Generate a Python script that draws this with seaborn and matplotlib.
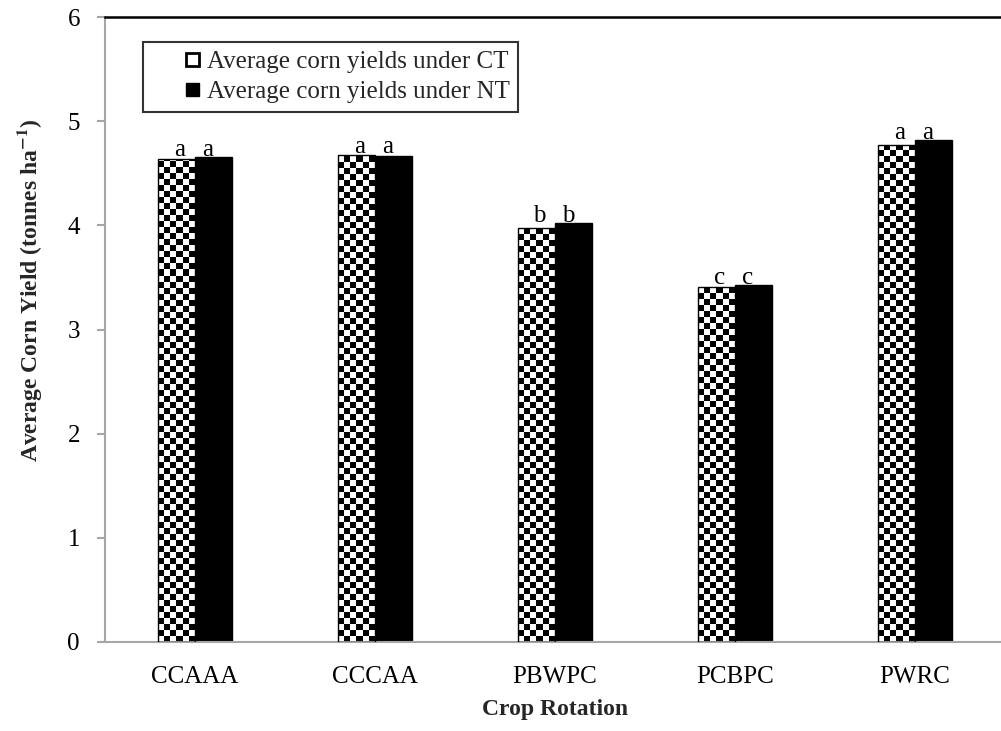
import numpy as np
import pandas as pd
import matplotlib
matplotlib.use("Agg")
import matplotlib.pyplot as plt
from matplotlib.colors import ListedColormap
from matplotlib.patches import Patch, Rectangle
from matplotlib.legend_handler import HandlerPatch
import seaborn as sns

# ---- data ----
rotations = ["CCAAA", "CCCAA", "PBWPC", "PCBPC", "PWRC"]
ct_yield = [4.64, 4.68, 3.97, 3.41, 4.77]
nt_yield = [4.66, 4.67, 4.02, 3.43, 4.82]
ct_letters = ["a", "a", "b", "c", "a"]
nt_letters = ["a", "a", "b", "c", "a"]
series_names = ["Average corn yields under CT", "Average corn yields under NT"]
y_ticks = [0, 1, 2, 3, 4, 5, 6]

df = pd.DataFrame({
    "Rotation": rotations * 2,
    "Tillage": ["CT"] * len(rotations) + ["NT"] * len(rotations),
    "Yield": ct_yield + nt_yield,
})

sns.set_theme(style="white")
plt.rcParams["font.family"] = ["Liberation Serif", "DejaVu Serif"]
plt.rcParams["mathtext.fontset"] = "stix"

W, H = 1001, 731
fig = plt.figure(figsize=(W / 100, H / 100), dpi=100)
ax = fig.add_axes([105 / W, (H - 642) / H, 900 / W, (642 - 17) / H])

sns.barplot(data=df, x="Rotation", y="Yield", hue="Tillage", order=rotations,
            hue_order=["CT", "NT"], palette={"CT": "white", "NT": "black"},
            width=0.41, dodge=True, edgecolor="black", linewidth=1.0,
            legend=False, ax=ax, errorbar=None)

# checkerboard fill for CT bars
cmap = ListedColormap(["white", "black"])
cell_y = 0.0576
ct_bars = ax.containers[0]
nt_bars = ax.containers[1]
for p in ct_bars.patches:
    x0 = p.get_x()
    w = p.get_width()
    h = p.get_height()
    ncols = 6
    nrows = int(np.ceil(h / cell_y))
    ii, jj = np.indices((nrows, ncols))
    arr = (ii + jj) % 2
    im = ax.imshow(arr, cmap=cmap, extent=[x0, x0 + w, 0, nrows * cell_y],
                   origin="lower", interpolation="nearest", aspect="auto",
                   zorder=2)
    im.set_clip_path(p)
    p.set_facecolor("none")
    p.set_zorder(3)

ax.set_xlim(-0.5, 4.5)
ax.set_ylim(0, 6)
ax.set_aspect("auto")

# significance letters
for i, (pc, pn) in enumerate(zip(ct_bars.patches, nt_bars.patches)):
    top = max(ct_yield[i], nt_yield[i]) + 0.01
    ax.text(pc.get_x() + pc.get_width() / 2 + 0.015, top, ct_letters[i],
            ha="center", va="baseline", fontsize=18, color="black")
    ax.text(pn.get_x() + pn.get_width() / 2 - 0.03, top, nt_letters[i],
            ha="center", va="baseline", fontsize=18, color="black")

# axes styling
ax.set_yticks(y_ticks)
ax.tick_params(axis="y", which="major", direction="out", length=6, width=1.5,
               color="#A6A6A6", labelsize=18, pad=12, left=True)
ax.tick_params(axis="x", length=0, labelsize=18, pad=17)
for lab in ax.get_xticklabels() + ax.get_yticklabels():
    lab.set_color("black")
ax.spines["left"].set_color("#A6A6A6")
ax.spines["left"].set_linewidth(1.5)
ax.spines["bottom"].set_color("#A6A6A6")
ax.spines["bottom"].set_linewidth(1.5)
ax.spines["top"].set_color("black")
ax.spines["top"].set_linewidth(1.8)
ax.spines["right"].set_visible(False)
ax.grid(False)

ax.set_xlabel("Crop Rotation", fontsize=17, fontweight="bold")
ax.set_ylabel("Average Corn Yield (tonnes ha$^{\\mathbf{-1}}$)", fontsize=17,
              fontweight="bold")
ax.xaxis.set_label_coords(0.5, (642 - 709) / 625)
ax.yaxis.set_label_coords((30 - 105) / 900, (642 - 290) / 625)
ax.yaxis.label.set_verticalalignment("center")
ax.xaxis.label.set_verticalalignment("center")


def right_square(legend, orig_handle, xdescent, ydescent, width, height, fontsize):
    size = 0.55 * fontsize
    return Rectangle((width - size - xdescent, -ydescent + (height - size) / 2),
                     size, size)


handles = [
    Patch(facecolor="white", edgecolor="black", linewidth=2),
    Patch(facecolor="black", edgecolor="black"),
]
hmap = {h: HandlerPatch(patch_func=right_square) for h in handles}
leg = fig.legend(handles, series_names, loc="upper left", handler_map=hmap,
                 bbox_to_anchor=(143 / W, 1 - 42 / H), bbox_transform=fig.transFigure,
                 borderaxespad=0, fontsize=18, frameon=True, fancybox=False,
                 edgecolor="black", handlelength=1.9, handleheight=0.7,
                 handletextpad=0.3, labelspacing=0.3, borderpad=0.35)
leg.get_frame().set_linewidth(1.5)

fig.savefig("out.png", dpi=100)
